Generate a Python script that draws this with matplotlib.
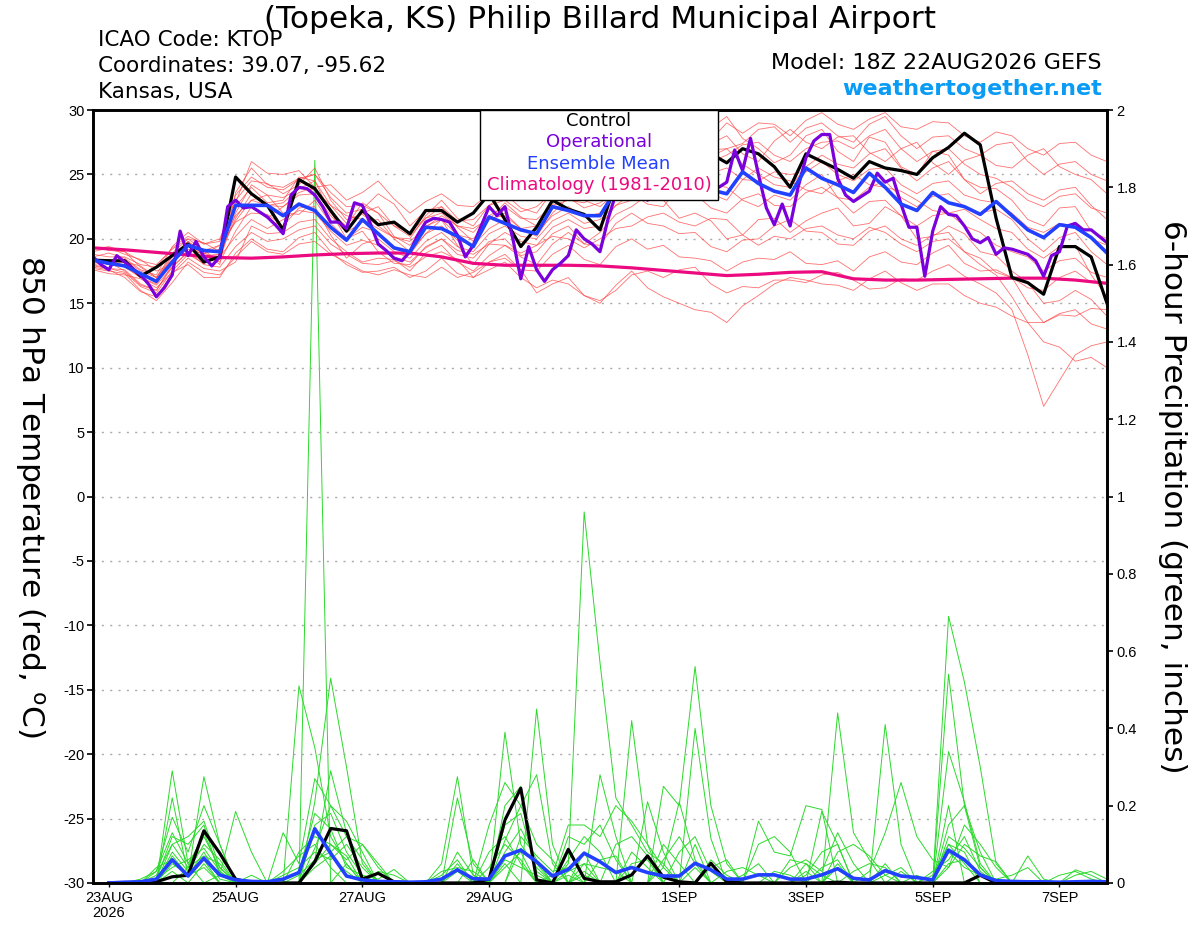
"""
GEFS meteogram for KTOP (Topeka, KS): 850 hPa temperature plumes (left axis)
and 6-hour precipitation plumes (right axis).
"""

import numpy as np
import pandas as pd
import matplotlib
matplotlib.use("Agg")
import matplotlib.pyplot as plt
from matplotlib.patches import Rectangle

plt.rcParams["font.family"] = ["Liberation Sans", "DejaVu Sans"]
plt.rcParams["mathtext.fontset"] = "custom"
plt.rcParams["mathtext.rm"] = "DejaVu Sans"
plt.rcParams["axes.unicode_minus"] = False

RUN_START = "2026-08-22 18:00"
HEAD_FONT = ["DejaVu Sans"]

# ── 850 hPa temperature (deg C), every 6 h from 18Z 22AUG ────────────────────
control_t = [18.35, 18.3, 18.3, 17.1, 17.8, 18.7, 19.6, 18.2, 18.6, 24.8,
             23.5, 22.6, 20.7, 24.6, 23.9, 22.2, 20.6, 22.2, 21.1, 21.3,
             20.4, 22.2, 22.2, 21.3, 22.0, 23.5, 21.5, 19.4, 20.9, 23.0,
             22.3, 21.9, 20.7, 24.4, 25.0, 25.8, 26.2, 25.6, 26.4, 26.6,
             25.9, 27.0, 26.6, 25.6, 24.0, 26.6, 26.0, 25.4, 24.7, 26.0,
             25.5, 25.3, 25.0, 26.3, 27.1, 28.2, 27.3, 21.6, 17.0, 16.6,
             15.7, 19.4, 19.4, 18.6, 15.0]
mean_t = [18.35, 18.1, 17.9, 17.3, 16.7, 18.2, 19.5, 19.1, 19.0, 22.6,
          22.6, 22.6, 21.8, 22.7, 22.2, 20.9, 19.9, 21.5, 20.4, 19.3,
          19.0, 20.9, 20.8, 20.2, 19.4, 21.7, 21.2, 20.7, 20.4, 22.5,
          22.2, 21.8, 21.8, 23.8, 24.5, 24.2, 24.6, 24.0, 24.4, 23.8,
          23.5, 25.2, 24.3, 23.7, 23.4, 25.5, 24.7, 24.2, 23.6, 25.1,
          24.0, 22.7, 22.2, 23.6, 22.8, 22.5, 21.9, 22.9, 21.8, 20.7,
          20.1, 21.1, 20.9, 20.1, 18.9]

# operational run, every 3 h
oper_t = [18.6, 18.0, 17.6, 18.7, 18.2, 17.7, 17.2, 16.5, 15.5, 16.2,
          17.2, 20.6, 18.7, 19.8, 18.6, 17.9, 18.6, 22.5, 23.0, 22.4,
          22.5, 22.1, 21.7, 21.1, 20.4, 23.4, 24.0, 23.9, 23.4, 22.5,
          21.3, 21.3, 20.8, 22.8, 22.6, 21.2, 19.6, 19.1, 18.5, 18.3,
          19.0, 20.3, 21.3, 21.6, 21.5, 21.3, 20.3, 18.6, 19.5, 21.0,
          22.5, 21.8, 22.5, 20.0, 16.9, 19.4, 17.6, 16.7, 17.6, 18.1,
          18.7, 20.7, 20.0, 19.6, 19.0, 21.5, 23.5, 24.0, 23.5, 24.2,
          23.0, 23.8, 24.5, 23.6, 24.0, 23.2, 24.3, 23.5, 24.2, 24.0,
          24.4, 26.9, 25.3, 27.8, 25.0, 22.4, 21.1, 22.7, 21.0, 24.0,
          26.3, 27.6, 28.1, 28.1, 24.7, 23.4, 22.9, 23.3, 23.7, 25.1,
          24.4, 24.7, 22.7, 20.9, 20.9, 17.1, 20.6, 22.5, 21.9, 21.8,
          21.0, 20.0, 19.7, 20.1, 18.8, 19.3, 19.2, 19.0, 18.8, 18.3,
          17.1, 18.7, 19.0, 21.0, 21.2, 20.7, 20.7, 20.2, 19.7]

# climatology, every 12 h
clim_t = [19.3, 19.15, 18.95, 18.75, 18.55, 18.5, 18.6, 18.75, 18.85, 18.9,
          18.9, 18.6, 18.1, 17.95, 17.95, 17.95, 17.9, 17.75, 17.55, 17.35,
          17.15, 17.25, 17.4, 17.45, 16.9, 16.8, 16.8, 16.85, 16.9, 16.95,
          16.95, 16.8, 16.55]

# ensemble members, every 6 h
members_t = [
    [18.0, 18.2, 17.5, 16.4, 16.0, 17.8, 19.0, 18.2, 18.5, 22.5, 24.0, 22.8, 23.0, 24.8, 24.5, 22.0,
     21.0, 22.8, 22.0, 20.2, 19.5, 21.0, 21.5, 20.3, 20.0, 21.5, 22.0, 20.8, 21.0, 22.9, 23.5, 24.6,
     24.0, 25.2, 26.0, 24.9, 25.5, 27.3, 27.0, 28.6, 29.5, 27.8, 27.0, 25.9, 26.5, 28.0, 28.5, 26.8,
     26.0, 27.9, 27.5, 25.6, 25.0, 26.8, 26.5, 24.6, 24.0, 23.9, 23.0, 21.5, 21.0, 22.4, 22.5, 20.6, 20.0],
    [18.5, 18.0, 18.2, 17.9, 17.0, 18.9, 20.0, 19.1, 19.5, 21.8, 23.0, 23.4, 22.0, 21.9, 23.0, 21.2,
     20.0, 20.6, 19.0, 18.1, 18.0, 19.4, 20.0, 18.8, 18.5, 19.8, 20.0, 18.7, 19.0, 20.4, 21.0, 19.6,
     20.5, 21.9, 22.5, 23.4, 23.0, 21.6, 22.0, 21.4, 20.0, 20.3, 21.5, 21.6, 20.5, 21.4, 22.0, 22.4,
     21.0, 21.2, 22.5, 21.8, 20.0, 20.2, 21.0, 20.4, 19.0, 18.7, 17.5, 16.6, 15.0, 15.2, 16.0, 15.3, 14.0],
    [19.0, 19.3, 18.8, 18.4, 17.5, 18.0, 19.5, 19.2, 18.0, 23.6, 25.5, 24.2, 24.0, 24.7, 25.0, 23.2,
     22.0, 22.3, 23.5, 22.7, 21.0, 22.2, 22.5, 21.4, 21.5, 22.6, 23.0, 22.1, 22.5, 23.6, 24.0, 24.4,
     25.5, 26.3, 26.5, 25.0, 24.0, 25.3, 26.0, 26.9, 27.0, 27.4, 28.5, 28.7, 27.5, 28.6, 29.0, 28.0,
     27.5, 28.9, 29.5, 28.0, 27.0, 27.9, 28.0, 27.0, 26.5, 27.3, 27.5, 26.0, 25.0, 25.8, 26.0, 25.0, 24.5],
    [17.8, 17.6, 17.0, 15.9, 15.5, 17.3, 18.5, 17.7, 17.5, 18.2, 21.0, 20.4, 20.5, 21.3, 21.5, 20.0,
     19.0, 18.2, 18.5, 18.4, 17.5, 18.9, 19.5, 18.2, 17.5, 18.7, 19.5, 18.6, 18.0, 19.6, 20.5, 19.6,
     19.5, 21.2, 22.0, 21.2, 21.0, 20.4, 20.5, 19.4, 19.0, 19.9, 20.0, 21.0, 21.5, 20.6, 20.5, 19.6,
     19.5, 20.6, 21.0, 20.0, 19.5, 20.3, 20.5, 19.0, 18.0, 17.2, 15.5, 13.5, 12.0, 11.6, 10.5, 10.8, 10.0],
    [18.6, 18.9, 18.5, 17.6, 17.2, 19.4, 20.5, 19.6, 20.0, 23.0, 24.5, 24.3, 23.5, 24.2, 25.5, 23.0,
     21.5, 21.9, 21.0, 20.1, 20.0, 21.8, 23.0, 21.6, 21.0, 22.6, 23.5, 22.4, 22.0, 23.7, 24.5, 23.4,
     23.0, 24.4, 25.0, 25.2, 26.0, 26.9, 27.5, 27.4, 28.0, 26.6, 26.0, 27.6, 28.5, 27.5, 27.0, 27.9,
     28.0, 26.7, 26.0, 27.0, 27.5, 25.9, 25.0, 26.1, 26.5, 25.7, 25.5, 26.5, 27.0, 25.6, 25.0, 24.6, 23.5],
    [18.2, 18.4, 17.8, 17.0, 16.5, 18.3, 19.2, 18.8, 19.5, 21.3, 22.0, 21.9, 21.0, 22.4, 22.5, 20.3,
     18.5, 19.6, 20.0, 19.0, 18.5, 19.8, 20.5, 19.4, 19.0, 20.4, 21.0, 20.2, 20.0, 21.4, 22.0, 21.2,
     21.5, 22.6, 23.0, 23.5, 24.5, 23.6, 23.5, 22.4, 22.0, 23.1, 23.5, 22.6, 22.5, 23.6, 24.0, 23.2,
     23.0, 24.0, 24.5, 23.2, 22.5, 23.3, 23.5, 22.5, 22.0, 22.3, 21.5, 20.0, 19.0, 20.1, 20.5, 19.0, 18.0],
    [17.6, 17.3, 17.2, 16.9, 16.2, 17.4, 18.0, 17.0, 17.0, 18.9, 20.0, 19.2, 19.0, 20.1, 20.5, 19.0,
     18.0, 17.4, 17.5, 17.8, 17.0, 17.5, 18.5, 17.3, 17.0, 18.2, 18.5, 17.6, 17.5, 18.8, 19.5, 18.4,
     18.0, 19.4, 20.0, 19.2, 19.5, 18.6, 18.5, 18.3, 17.5, 18.2, 18.5, 18.4, 19.0, 18.1, 18.0, 18.3,
     17.5, 18.6, 19.0, 18.2, 18.0, 18.9, 19.5, 18.1, 17.5, 17.6, 17.0, 16.2, 16.0, 17.0, 17.5, 16.6, 16.5],
    [19.2, 19.4, 19.0, 18.3, 18.0, 19.2, 20.0, 19.7, 19.0, 22.8, 26.0, 25.1, 25.0, 25.3, 24.0, 24.2,
     23.0, 23.6, 24.5, 23.1, 22.0, 22.9, 23.5, 22.6, 22.5, 23.5, 24.0, 23.2, 23.0, 24.3, 25.0, 24.4,
     24.5, 25.6, 27.0, 26.4, 26.5, 27.2, 26.5, 27.7, 29.0, 28.2, 29.0, 28.9, 28.0, 29.2, 29.8, 28.9,
     28.5, 29.3, 29.8, 28.7, 28.5, 29.1, 29.0, 28.0, 27.5, 28.3, 28.0, 27.0, 26.5, 27.4, 27.5, 26.5, 26.0],
    [18.0, 17.7, 17.6, 16.5, 16.0, 18.0, 19.5, 18.7, 18.8, 21.6, 23.5, 22.6, 22.5, 23.4, 23.5, 21.8,
     20.5, 21.3, 21.5, 20.0, 19.0, 20.4, 21.0, 19.9, 19.5, 20.8, 21.5, 20.6, 20.5, 21.8, 22.5, 21.7,
     22.0, 23.6, 24.5, 24.3, 25.0, 24.0, 24.0, 25.1, 25.5, 24.6, 24.5, 25.2, 25.0, 25.2, 26.0, 25.0,
     24.5, 25.4, 25.5, 24.2, 23.5, 24.3, 24.5, 23.4, 23.0, 22.8, 22.0, 20.9, 20.5, 21.2, 21.0, 20.0, 19.5],
    [18.4, 18.1, 18.0, 17.1, 16.8, 18.6, 19.8, 18.7, 18.2, 20.6, 22.5, 21.6, 22.5, 23.6, 24.0, 22.1,
     20.0, 20.9, 20.5, 19.3, 18.8, 20.4, 21.5, 19.5, 18.0, 19.6, 20.5, 19.8, 19.5, 20.9, 21.5, 20.8,
     21.0, 22.6, 23.5, 22.7, 22.5, 24.1, 25.0, 24.2, 24.0, 23.0, 22.5, 23.4, 23.0, 24.2, 25.0, 23.2,
     22.0, 22.9, 23.0, 21.8, 21.0, 21.8, 22.0, 21.0, 20.5, 19.5, 19.0, 18.6, 17.5, 18.3, 18.5, 17.4, 17.0],
    [17.9, 17.7, 17.4, 16.3, 15.8, 17.5, 18.8, 18.1, 18.6, 20.2, 21.5, 20.8, 21.5, 22.2, 22.0, 20.6,
     19.5, 19.9, 19.5, 18.6, 18.2, 19.3, 20.0, 19.1, 18.8, 19.6, 19.5, 18.9, 19.5, 20.2, 20.0, 19.3,
     20.0, 20.8, 21.0, 21.7, 22.0, 21.3, 21.0, 21.6, 21.5, 20.3, 19.5, 20.2, 20.0, 20.8, 21.0, 20.3,
     20.0, 20.9, 20.5, 19.6, 19.0, 19.8, 20.0, 19.0, 18.5, 17.4, 17.0, 15.0, 13.5, 14.2, 14.5, 13.4, 13.0],
    [18.8, 18.6, 18.6, 18.0, 17.8, 19.3, 20.2, 19.6, 19.8, 23.4, 24.8, 24.0, 23.8, 24.6, 25.0, 23.6,
     22.5, 22.6, 22.0, 21.0, 20.5, 21.6, 22.0, 21.0, 20.5, 21.8, 22.5, 21.6, 21.5, 22.6, 23.0, 22.8,
     23.5, 24.7, 25.5, 24.6, 24.5, 25.8, 26.5, 26.0, 26.5, 27.3, 27.5, 26.5, 26.0, 27.0, 27.5, 27.6,
     27.0, 28.0, 28.5, 27.0, 26.0, 26.8, 27.0, 25.8, 25.0, 24.7, 24.0, 23.0, 22.5, 23.3, 23.5, 22.4, 22.0],
    [18.1, 18.3, 17.9, 17.0, 16.4, 17.8, 19.0, 18.0, 17.8, 19.4, 20.5, 19.8, 20.0, 20.7, 21.0, 19.6,
     18.8, 18.1, 18.0, 18.3, 17.8, 18.6, 19.0, 18.4, 17.0, 17.6, 18.2, 17.0, 16.2, 16.8, 16.5, 15.6,
     15.0, 16.4, 17.5, 16.2, 15.5, 15.0, 14.5, 14.3, 13.5, 14.8, 15.6, 16.5, 17.0, 16.8, 16.5, 16.4,
     16.0, 16.9, 17.5, 16.6, 16.0, 16.5, 16.5, 15.6, 15.0, 14.7, 14.0, 13.5, 13.5, 14.1, 14.0, 14.6, 14.5],
    [18.3, 18.0, 18.4, 17.5, 17.0, 18.4, 19.5, 18.9, 19.2, 21.4, 23.0, 22.6, 22.8, 23.9, 24.5, 22.6,
     21.2, 22.0, 22.5, 21.0, 20.2, 21.6, 22.5, 20.9, 19.8, 21.5, 22.8, 21.7, 21.0, 22.7, 24.0, 23.0,
     22.5, 23.6, 24.0, 24.2, 23.5, 24.8, 25.5, 26.4, 27.0, 25.8, 25.0, 24.2, 24.0, 25.6, 26.5, 25.8,
     25.5, 26.6, 27.0, 25.5, 24.5, 25.5, 26.0, 24.6, 23.5, 24.3, 24.5, 23.5, 23.0, 23.8, 24.0, 22.6, 21.5],
    [19.4, 19.1, 19.0, 17.8, 17.0, 18.7, 19.8, 18.9, 18.4, 22.0, 24.2, 23.4, 23.2, 23.9, 23.8, 22.6,
     21.8, 21.5, 20.8, 20.1, 19.8, 20.9, 21.8, 21.0, 20.8, 21.6, 21.8, 20.8, 20.2, 22.0, 23.2, 22.4,
     22.8, 23.6, 23.5, 24.5, 25.0, 24.4, 24.5, 23.5, 23.0, 24.6, 25.5, 24.8, 24.5, 23.8, 23.5, 24.5,
     25.0, 24.2, 24.0, 23.7, 23.0, 22.2, 22.0, 22.3, 21.5, 20.8, 20.5, 19.2, 18.5, 19.4, 19.5, 17.2, 15.5],
    [17.7, 17.5, 17.3, 16.0, 15.2, 16.6, 18.2, 17.4, 17.2, 18.6, 19.8, 19.0, 18.8, 19.6, 19.8, 18.8,
     18.2, 17.5, 17.2, 17.6, 17.2, 17.0, 17.8, 17.0, 17.4, 18.2, 18.8, 17.6, 15.8, 16.5, 17.0, 15.6,
     15.2, 16.0, 17.2, 17.5, 17.0, 17.6, 17.8, 16.5, 15.8, 16.3, 16.2, 16.8, 16.8, 16.6, 17.2, 17.4,
     16.8, 16.1, 16.2, 16.9, 16.8, 17.5, 18.0, 17.1, 16.5, 15.8, 14.5, 11.0, 7.0, 9.0, 11.0, 11.7, 12.0],
]

# ── 6-hour precipitation (inches), every 6 h from 00Z 23AUG ──────────────────
control_p = [0, 0, 0, 0.003, 0.016, 0.02, 0.135, 0.077, 0.01, 0,
             0, 0, 0, 0.055, 0.141, 0.135, 0.01, 0.025, 0.003, 0,
             0, 0, 0, 0, 0.01, 0.163, 0.245, 0.008, 0, 0.087,
             0.012, 0.003, 0.003, 0.021, 0.07, 0.015, 0.003, 0, 0.051, 0.003,
             0, 0, 0, 0, 0, 0, 0.002, 0, 0, 0,
             0, 0, 0, 0, 0, 0.02, 0, 0, 0, 0,
             0, 0, 0, 0]
mean_p = [0.0, 0.002, 0.003, 0.01, 0.06, 0.018, 0.064, 0.021, 0.008, 0.004,
          0.003, 0.01, 0.027, 0.14, 0.077, 0.018, 0.008, 0.004, 0.003, 0.002,
          0.003, 0.01, 0.034, 0.011, 0.01, 0.07, 0.085, 0.055, 0.018, 0.035,
          0.077, 0.055, 0.027, 0.04, 0.027, 0.018, 0.018, 0.051, 0.034, 0.01,
          0.01, 0.021, 0.021, 0.01, 0.01, 0.021, 0.037, 0.012, 0.008, 0.032,
          0.018, 0.014, 0.008, 0.085, 0.06, 0.021, 0.006, 0.004, 0.003, 0.003,
          0.002, 0.003, 0.004, 0.003]

members_p = [
    [0, 0, 0, 0, 0.29, 0.05, 0.12, 0.04,  0, 0, 0, 0, 0, 1.87, 0, 0.05,
     0, 0, 0, 0, 0, 0, 0.05, 0,  0, 0.39, 0.1, 0.04, 0, 0, 0.02, 0,
     0, 0, 0, 0, 0, 0.1, 0, 0,  0, 0, 0, 0, 0, 0, 0.05, 0,
     0, 0, 0, 0, 0, 0.1, 0.05, 0,  0, 0, 0, 0, 0, 0, 0, 0],
    [0, 0, 0, 0, 0.22, 0.02, 0.275, 0.1,  0, 0, 0, 0, 0.51, 0.35, 0.12, 0.05,
     0, 0, 0, 0, 0, 0.05, 0.275, 0.02,  0, 0, 0, 0.45, 0.1, 0, 0.08, 0,
     0, 0.42, 0.1, 0, 0, 0, 0, 0,  0, 0, 0, 0, 0.05, 0, 0, 0,
     0, 0.41, 0.1, 0, 0, 0.2, 0, 0,  0, 0, 0, 0, 0, 0, 0, 0],
    [0, 0, 0, 0.03, 0.17, 0.08, 0.2, 0.1,  0, 0, 0, 0, 0, 0.21, 0.53, 0.3,
     0.05, 0, 0, 0, 0, 0, 0, 0,  0, 0.2, 0.25, 0, 0, 0.05, 0.96, 0.57,
     0.22, 0.15, 0.08, 0.05, 0, 0, 0, 0,  0, 0, 0, 0, 0, 0, 0, 0,
     0, 0, 0, 0, 0, 0.69, 0.52, 0.3,  0.05, 0, 0, 0, 0, 0, 0, 0],
    [0, 0, 0, 0.01, 0.12, 0.1, 0.15, 0.02,  0.185, 0.08, 0, 0, 0, 0.06, 0.29, 0.13,
     0, 0, 0, 0, 0, 0, 0, 0,  0.15, 0.26, 0.2, 0.28, 0.05, 0, 0, 0,
     0, 0, 0, 0.25, 0.2, 0.56, 0.2, 0.05,  0, 0, 0, 0, 0, 0, 0.44, 0.13,
     0.06, 0, 0, 0, 0, 0, 0, 0,  0, 0, 0, 0, 0, 0, 0, 0],
    [0, 0, 0, 0.02, 0.1, 0.04, 0.13, 0.03,  0, 0, 0, 0.13, 0.05, 0.27, 0.2, 0.12,
     0.1, 0.05, 0, 0, 0, 0, 0.22, 0.05,  0, 0.15, 0.18, 0.03, 0, 0, 0, 0.28,
     0.12, 0, 0, 0, 0, 0.4, 0.115, 0,  0, 0, 0, 0, 0, 0.185, 0.1, 0,
     0, 0, 0, 0, 0, 0.54, 0.2, 0.04,  0, 0, 0, 0, 0, 0, 0, 0],
    [0, 0, 0, 0, 0.08, 0.03, 0.1, 0.06,  0, 0, 0, 0, 0, 0.15, 0.18, 0.08,
     0.02, 0.01, 0.035, 0, 0, 0, 0, 0,  0.08, 0.12, 0.05, 0, 0, 0.12, 0.1, 0.15,
     0.06, 0, 0.21, 0.08, 0, 0, 0, 0,  0, 0.16, 0.08, 0.07, 0.2, 0.19, 0, 0,
     0, 0, 0, 0, 0, 0.34, 0.21, 0.05,  0, 0, 0, 0, 0, 0, 0, 0],
    [0, 0, 0, 0.04, 0.06, 0.02, 0.08, 0.01,  0, 0, 0, 0, 0.08, 0.12, 0.1, 0.06,
     0.1, 0.04, 0, 0, 0, 0, 0, 0.06,  0, 0.08, 0.14, 0.06, 0, 0, 0, 0,
     0.1, 0.12, 0.07, 0, 0, 0, 0.06, 0.02,  0, 0, 0, 0, 0, 0, 0, 0,
     0.03, 0.13, 0.26, 0.12, 0.06, 0.04, 0.1, 0.07,  0.055, 0, 0.07, 0.01, 0, 0, 0, 0],
    [0, 0, 0, 0, 0.05, 0.02, 0.06, 0,  0, 0, 0, 0.02, 0.04, 0.08, 0.06, 0.1,
     0.04, 0, 0, 0, 0, 0.02, 0.06, 0,  0, 0.04, 0.08, 0, 0, 0.06, 0.12, 0.08,
     0, 0, 0, 0.04, 0.21, 0.06, 0, 0,  0, 0, 0, 0.04, 0.06, 0.03, 0.13, 0.05,
     0, 0, 0, 0, 0.02, 0.1, 0.08, 0,  0, 0, 0, 0, 0, 0.034, 0.02, 0],
    [0, 0, 0, 0.01, 0.04, 0.06, 0.09, 0.03,  0, 0, 0, 0, 0, 0.05, 0.1, 0.07,
     0, 0, 0, 0, 0, 0.03, 0.04, 0.03,  0, 0, 0.12, 0.07, 0.03, 0.04, 0, 0,
     0, 0.05, 0.06, 0, 0, 0.04, 0, 0,  0.02, 0.05, 0, 0, 0, 0.04, 0.06, 0,
     0, 0.05, 0, 0, 0, 0.12, 0.09, 0.04,  0, 0, 0, 0, 0.02, 0.03, 0.01, 0],
    [0, 0, 0, 0, 0, 0.04, 0.07, 0.05,  0, 0, 0, 0.03, 0.07, 0.1, 0.04, 0,
     0, 0.03, 0.02, 0, 0, 0, 0, 0,  0.04, 0.1, 0.06, 0, 0, 0, 0.05, 0.04,
     0.03, 0, 0, 0, 0.08, 0.12, 0.03, 0,  0, 0, 0.03, 0.02, 0, 0, 0, 0.03,
     0.05, 0.04, 0, 0, 0.03, 0.06, 0.12, 0.03,  0, 0, 0, 0, 0, 0.02, 0.03, 0.01],
    [0, 0, 0.01, 0.03, 0.13, 0.05, 0, 0.02,  0, 0, 0, 0.01, 0.03, 0.18, 0.14, 0.04,
     0.02, 0, 0, 0, 0, 0, 0.08, 0.02,  0, 0, 0.09, 0.05, 0, 0.02, 0, 0.06,
     0.07, 0, 0, 0.1, 0.05, 0, 0, 0.03,  0.04, 0.02, 0, 0, 0.03, 0, 0.04, 0,
     0, 0, 0, 0.02, 0, 0.08, 0.04, 0.02,  0, 0, 0, 0, 0, 0, 0, 0],
    [0, 0, 0, 0, 0.07, 0.02, 0.04, 0,  0, 0.02, 0, 0, 0.02, 0.06, 0.08, 0.12,
     0.06, 0, 0, 0, 0, 0, 0, 0,  0, 0.06, 0.04, 0.02, 0, 0.03, 0.05, 0,
     0, 0.08, 0.04, 0, 0, 0, 0.04, 0.06,  0, 0, 0, 0.06, 0.05, 0.02, 0, 0,
     0, 0.02, 0.04, 0, 0, 0.05, 0.06, 0.02,  0.01, 0.02, 0.04, 0, 0, 0, 0, 0],
    [0, 0, 0, 0, 0.03, 0, 0.05, 0,  0, 0, 0, 0, 0, 0.04, 0.07, 0.03,
     0, 0, 0, 0, 0, 0, 0, 0,  0, 0.05, 0, 0, 0.02, 0.15, 0.15, 0.12,
     0.2, 0.16, 0.1, 0.04, 0, 0, 0, 0,  0, 0.1, 0.12, 0.08, 0, 0, 0.08, 0.1,
     0.07, 0.02, 0, 0, 0, 0.04, 0.15, 0.1,  0.04, 0, 0, 0, 0, 0, 0, 0],
    [0, 0, 0, 0, 0.1, 0.12, 0.16, 0.04,  0, 0, 0, 0, 0, 0.09, 0.2, 0.16,
     0.08, 0, 0, 0, 0, 0, 0.03, 0,  0, 0.11, 0.2, 0.1, 0.06, 0, 0.03, 0,
     0, 0, 0, 0.06, 0.12, 0.05, 0, 0,  0, 0, 0, 0, 0.02, 0.08, 0.1, 0,
     0, 0, 0.03, 0, 0, 0.15, 0.2, 0.08,  0, 0, 0, 0, 0, 0, 0, 0],
]

tick_days = ["2026-08-23", "2026-08-25", "2026-08-27", "2026-08-29",
             "2026-09-01", "2026-09-03", "2026-09-05", "2026-09-07"]
tick_labels = ["23AUG\n2026", "25AUG", "27AUG", "29AUG", "1SEP", "3SEP", "5SEP", "7SEP"]

# ── time axes ────────────────────────────────────────────────────────────────
t6 = pd.date_range(RUN_START, periods=len(control_t), freq="6h")
t3 = pd.date_range(RUN_START, periods=len(oper_t), freq="3h")
t12 = pd.date_range(RUN_START, periods=len(clim_t), freq="12h")
tp = pd.date_range("2026-08-23 00:00", periods=len(control_p), freq="6h")

RED = "#ff4040"
GREEN = "#2bd92b"
PURPLE = "#7a00dc"
BLUE = "#2240ff"
PINK = "#ec0a80"

fig = plt.figure(figsize=(12, 9.27), dpi=100)
ax = fig.add_axes([0.0775, 0.0475, 0.845, 0.8338])
ax2 = ax.twinx()
ax.set_zorder(ax2.get_zorder() + 1)
ax.patch.set_visible(False)

# precipitation (right axis, drawn underneath)
for m in members_p:
    ax2.plot(tp, m, color=GREEN, lw=0.7)
ax2.plot(tp, control_p, color="black", lw=2.3)
ax2.plot(tp, mean_p, color=BLUE, lw=2.6)

# temperature (left axis)
for m in members_t:
    ax.plot(t6[:len(m)], m, color=RED, lw=0.6, alpha=0.75)
ax.plot(t12, clim_t, color=PINK, lw=2.3)
ax.plot(t6, control_t, color="black", lw=2.3)
ax.plot(t3, oper_t, color=PURPLE, lw=2.3)
ax.plot(t6, mean_t, color=BLUE, lw=2.6)

ax.set_xlim(pd.Timestamp(RUN_START), pd.Timestamp("2026-09-07 18:00"))
ax.set_ylim(-30, 30)
ax2.set_ylim(0, 2)
ax.set_yticks(np.arange(-30, 31, 5))
ax2.set_yticks(np.arange(0, 2.01, 0.2))
ax2.set_yticklabels([f"{v:g}" for v in np.arange(0, 2.01, 0.2)])
ax.set_xticks(pd.to_datetime(tick_days))
ax.set_xticklabels(tick_labels)

ax.grid(axis="y", color="#aaaaaa", lw=1.0, dashes=(1.5, 4.5))
ax.set_axisbelow(True)

for a in (ax, ax2):
    for s in a.spines.values():
        s.set_linewidth(1.9)
ax.tick_params(axis="y", direction="out", length=4, width=1.2, labelsize=10.5, pad=2)
ax2.tick_params(axis="y", direction="out", length=4, width=1.2, labelsize=10.5, pad=3)
ax.tick_params(axis="x", direction="out", length=3, width=1.0, labelsize=10.5, pad=3)
for lab in ax.get_xticklabels():
    lab.set_linespacing(1.1)

# legend box
ax.add_patch(Rectangle((0.3817, 0.8836), 0.2347, 0.1164, transform=ax.transAxes,
                       facecolor="white", edgecolor="black", lw=1.0, zorder=10, clip_on=False))
legend_items = [("Control", "black"), ("Operational", PURPLE),
                ("Ensemble Mean", BLUE), ("Climatology (1981-2010)", PINK)]
for k, (txt, col) in enumerate(legend_items):
    ax.text(0.499, 0.9858 - k * 0.0276, txt, color=col, fontsize=13, family=HEAD_FONT,
            ha="center", va="center", transform=ax.transAxes, zorder=11)

# header texts
fig.text(0.5, 0.979, "(Topeka, KS) Philip Billard Municipal Airport",
         fontsize=22.5, family=HEAD_FONT, ha="center", va="center")
for txt, y in [("ICAO Code: KTOP", 0.9569), ("Coordinates: 39.07, -95.62", 0.9288),
               ("Kansas, USA", 0.9008)]:
    fig.text(0.0817, y, txt, fontsize=15.5, family=HEAD_FONT, ha="left", va="center")
fig.text(0.9183, 0.932, "Model: 18Z 22AUG2026 GEFS", fontsize=16, family=HEAD_FONT,
         ha="right", va="center")
fig.text(0.9183, 0.904, "weathertogether.net", fontsize=16, fontweight="bold",
         family=HEAD_FONT, color="#0a9cf5", ha="right", va="center")

fig.text(0.025, 0.4644, r"850 hPa Temperature (red, $^{\rm o}$C)", fontsize=22.5,
         family=HEAD_FONT, rotation=270, ha="center", va="center")
fig.text(0.9767, 0.4644, "6-hour Precipitation (green, inches)", fontsize=22.5,
         family=HEAD_FONT, rotation=270, ha="center", va="center")

fig.savefig("out.png", dpi=100)
